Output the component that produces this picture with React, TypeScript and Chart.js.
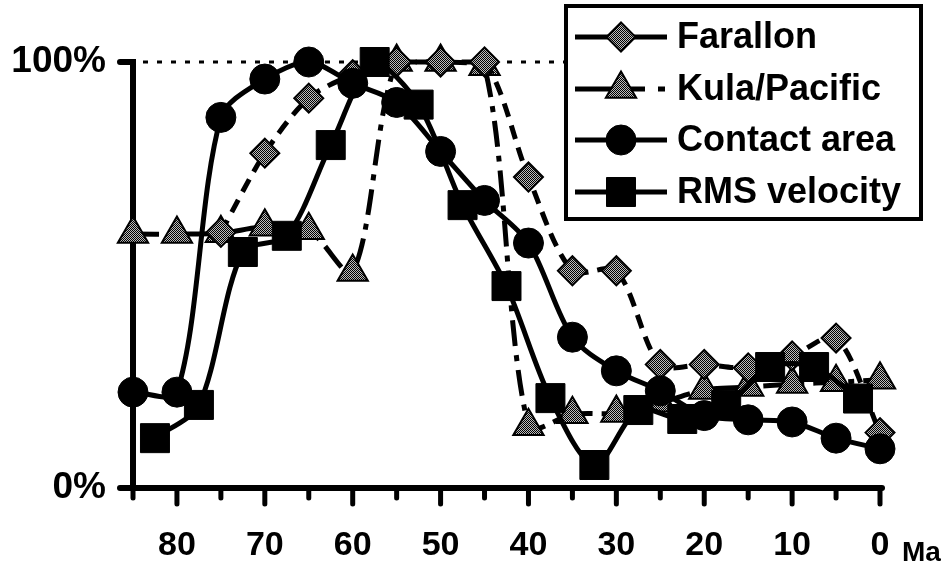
import React, { useEffect, useRef } from 'react';
import { Chart, registerables } from 'chart.js';
import { drawPoint } from 'chart.js/helpers';

Chart.register(...registerables);

// Ages (Ma) and values (%)
const farallonAges = [75, 70, 65, 60, 55, 50, 45, 40, 35, 30, 25, 20, 15, 10, 5, 0];
const farallonValues = [60, 78.6, 91.5, 97, 100, 100, 100, 73, 51, 51, 29, 29, 28.2, 31, 35.2, 13];

const kulaAges = [85, 80, 75, 70, 65, 60, 55, 50, 45, 40, 35, 30, 25, 20, 15, 10, 5, 0];
const kulaValues = [59.6, 59.6, 59.8, 61.3, 60.5, 50.7, 100, 100, 99, 14.5, 17.3, 17.6, 20, 23, 23.7, 24.4, 24.8, 25.4];

const contactAges = [85, 80, 75, 70, 65, 60, 55, 50, 45, 40, 35, 30, 25, 20, 15, 10, 5, 0];
const contactValues = [22.5, 22.5, 87, 96, 100, 95, 90.5, 79, 67.5, 57.5, 35.4, 27.5, 22.8, 17, 16, 15.5, 11.7, 9.2];

const rmsAges = [82.5, 77.5, 72.5, 67.5, 62.5, 57.5, 52.5, 47.5, 42.5, 37.5, 32.5, 27.5, 22.5, 17.5, 12.5, 7.5, 2.5];
const rmsValues = [11.7, 19.5, 55.4, 59.2, 80.5, 100, 90, 66.4, 47.4, 21.1, 5.4, 18.3, 16.2, 19.5, 28.4, 28.4, 21];

const seriesNames = ['Farallon', 'Kula/Pacific', 'Contact area', 'RMS velocity'];
const xTickValues = [85, 80, 75, 70, 65, 60, 55, 50, 45, 40, 35, 30, 25, 20, 15, 10, 5, 0];
const yTickValues = [0, 100];
const xUnit = 'Ma';

const FONT = '"Liberation Sans", Arial, Helvetica, sans-serif';

function toXY(ages: number[], vals: number[]) {
  return ages.map((a, i) => ({ x: a, y: vals[i] }));
}

export default function App() {
  const ref = useRef<HTMLCanvasElement | null>(null);

  useEffect(() => {
    document.body.style.margin = '0';
    const canvas = ref.current;
    if (!canvas) return;

    const pc = document.createElement('canvas');
    pc.width = 2;
    pc.height = 2;
    const pctx = pc.getContext('2d')!;
    pctx.fillStyle = '#bdbdbd';
    pctx.fillRect(0, 0, 2, 2);
    pctx.fillStyle = '#000';
    pctx.fillRect(0, 0, 1, 1);
    pctx.fillRect(1, 1, 1, 1);
    const grey = canvas.getContext('2d')!.createPattern(pc, 'repeat')!;

    const legendDash: number[][] = [[], [70, 13, 7, 30], [], []];

    const decor = {
      id: 'decor',
      beforeDatasetsDraw(chart: any) {
        const ctx = chart.ctx;
        const xs = chart.scales.x;
        const ys = chart.scales.y;
        const area = chart.chartArea;
        const x85 = xs.getPixelForValue(85);
        const x0 = xs.getPixelForValue(0);
        const yTop = ys.getPixelForValue(100);
        const yBot = ys.getPixelForValue(0);
        ctx.save();
        ctx.strokeStyle = '#000';
        ctx.lineWidth = 3;
        ctx.setLineDash([5, 9]);
        ctx.beginPath();
        ctx.moveTo(x85 + 10, yTop);
        ctx.lineTo(area.right, yTop);
        ctx.stroke();
        ctx.setLineDash([]);
        ctx.lineWidth = 6;
        ctx.lineCap = 'round';
        ctx.beginPath();
        ctx.moveTo(x85 - 13, yTop);
        ctx.lineTo(x85, yTop);
        ctx.lineTo(x85, yBot);
        ctx.stroke();
        ctx.beginPath();
        ctx.moveTo(x85 - 13, yBot);
        ctx.lineTo(x0 + 2, yBot);
        ctx.stroke();
        ctx.lineWidth = 5;
        for (const v of xTickValues) {
          const px = xs.getPixelForValue(v);
          const len = v % 10 === 0 && v !== 85 ? 16 : 10;
          ctx.beginPath();
          ctx.moveTo(px, yBot);
          ctx.lineTo(px, yBot + len);
          ctx.stroke();
        }
        ctx.restore();
      },
      afterDraw(chart: any) {
        const ctx = chart.ctx;
        ctx.save();
        ctx.fillStyle = '#000';
        ctx.font = `bold 28px ${FONT}`;
        ctx.textAlign = 'left';
        ctx.textBaseline = 'alphabetic';
        ctx.fillText(xUnit, 902, 561);
        const bx = 566, by = 6, bw = 355, bh = 213;
        ctx.fillStyle = '#fff';
        ctx.fillRect(bx, by, bw, bh);
        ctx.lineWidth = 4;
        ctx.strokeStyle = '#000';
        ctx.strokeRect(bx, by, bw, bh);
        const rows = [37, 89, 140, 192];
        chart.data.datasets.forEach((ds: any, i: number) => {
          const y = rows[i];
          ctx.save();
          ctx.lineWidth = 5;
          ctx.strokeStyle = '#000';
          ctx.setLineDash(legendDash[i]);
          ctx.beginPath();
          ctx.moveTo(575, y);
          ctx.lineTo(667, y);
          ctx.stroke();
          ctx.setLineDash([]);
          ctx.fillStyle = ds.pointBackgroundColor;
          ctx.strokeStyle = '#000';
          ctx.lineWidth = ds.pointBorderWidth;
          drawPoint(ctx, { pointStyle: ds.pointStyle, radius: ds.pointRadius, rotation: 0, borderWidth: ds.pointBorderWidth }, 621, y);
          ctx.restore();
          ctx.fillStyle = '#000';
          ctx.font = `bold 36px ${FONT}`;
          ctx.textAlign = 'left';
          ctx.textBaseline = 'middle';
          ctx.fillText(ds.label, 677, y + 1);
        });
        ctx.restore();
      },
    };

    const common = {
      borderColor: '#000',
      borderWidth: 5,
      pointBorderColor: '#000',
      tension: 0.3,
      clip: false as const,
      fill: false,
    };

    const chart = new Chart(canvas, {
      type: 'line',
      data: {
        datasets: [
          {
            ...common,
            label: seriesNames[0],
            data: toXY(farallonAges, farallonValues),
            borderDash: [14, 9],
            pointStyle: 'rectRot',
            pointRadius: 14.5,
            pointBackgroundColor: grey as any,
            pointBorderWidth: 2,
            order: 3,
          },
          {
            ...common,
            label: seriesNames[1],
            data: toXY(kulaAges, kulaValues),
            borderDash: [26, 9, 6, 9],
            pointStyle: 'triangle',
            pointRadius: 17.5,
            pointBackgroundColor: grey as any,
            pointBorderWidth: 2,
            order: 4,
          },
          {
            ...common,
            label: seriesNames[2],
            data: toXY(contactAges, contactValues),
            pointStyle: 'circle',
            pointRadius: 15,
            pointBackgroundColor: '#000',
            pointBorderWidth: 1,
            order: 2,
          },
          {
            ...common,
            label: seriesNames[3],
            data: toXY(rmsAges, rmsValues),
            pointStyle: 'rect',
            pointRadius: 20.5,
            pointBackgroundColor: '#000',
            pointBorderWidth: 1,
            order: 1,
          },
        ] as any,
      },
      options: {
        responsive: false,
        animation: false,
        events: [],
        layout: { padding: { left: 0, right: 71, top: 62, bottom: 0 } },
        plugins: {
          legend: { display: false },
          tooltip: { enabled: false },
          title: { display: false },
        },
        scales: {
          x: {
            type: 'linear',
            reverse: true,
            min: 0,
            max: 85,
            grid: { display: false, drawTicks: false },
            border: { display: false },
            afterFit(scale: any) {
              scale.height = 78;
            },
            ticks: {
              stepSize: 10,
              includeBounds: false,
              color: '#000',
              padding: 37,
              maxRotation: 0,
              autoSkip: false,
              font: { family: FONT, size: 34, weight: 'bold' },
            },
          },
          y: {
            type: 'linear',
            min: 0,
            max: 100,
            grid: { display: false, drawTicks: false },
            border: { display: false },
            afterFit(scale: any) {
              scale.width = 133;
            },
            afterBuildTicks(scale: any) {
              scale.ticks = yTickValues.map((v) => ({ value: v }));
            },
            ticks: {
              color: '#000',
              padding: 27,
              callback: (v: any) => `${v}%`,
              font: { family: FONT, size: 37, weight: 'bold' },
            },
          },
        },
      },
      plugins: [decor],
    });

    return () => chart.destroy();
  }, []);

  return (
    <div style={{ width: 951, height: 566, position: 'relative', background: '#fff' }}>
      <canvas ref={ref} width={951} height={566} />
    </div>
  );
}
